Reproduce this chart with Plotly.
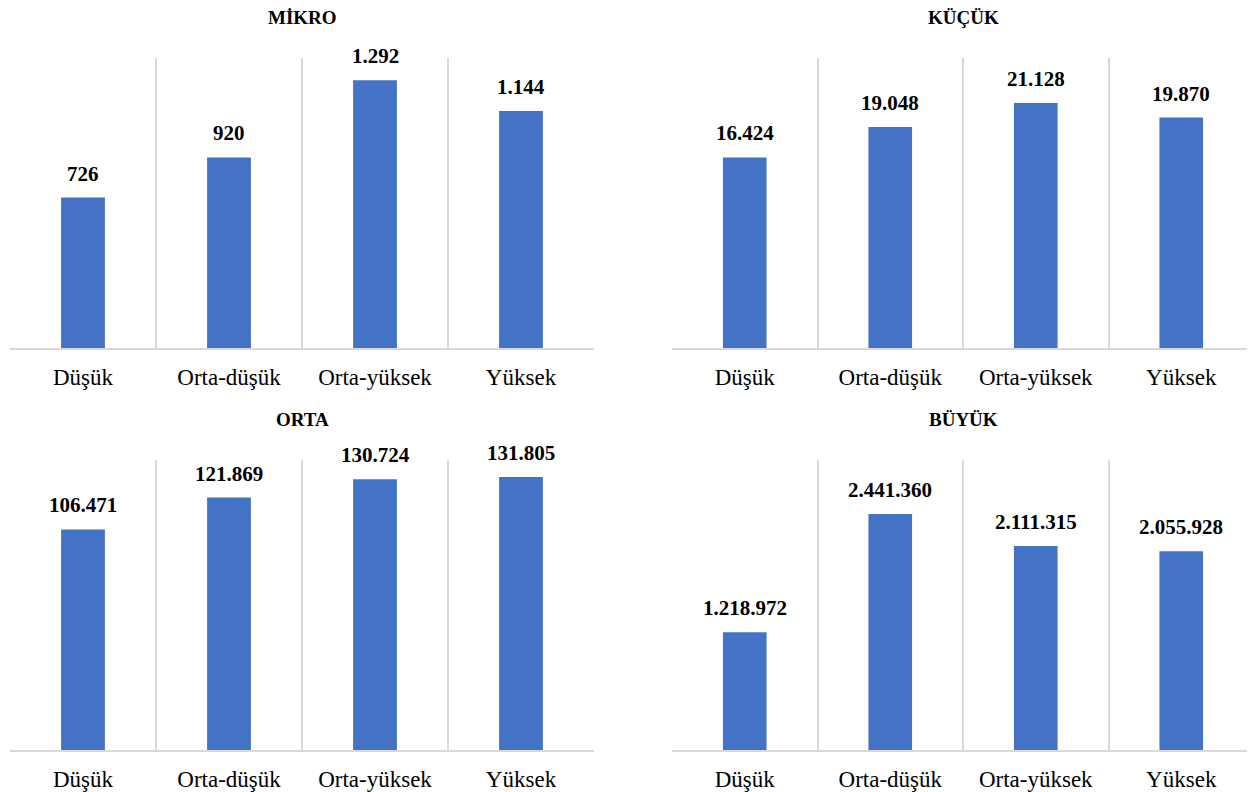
import plotly.graph_objects as go
from plotly.subplots import make_subplots

categories = ["Düşük", "Orta-düşük", "Orta-yüksek", "Yüksek"]

panel_titles = ["MİKRO", "KÜÇÜK", "ORTA", "BÜYÜK"]
mikro = [726, 920, 1292, 1144]
kucuk = [16424, 19048, 21128, 19870]
orta = [106471, 121869, 130724, 131805]
buyuk = [1218972, 2441360, 2111315, 2055928]
axis_max = [1400, 25000, 140000, 3000000]

series = [mikro, kucuk, orta, buyuk]

BAR = "#4472C4"
GRID = "#d9d9d9"
FONT = "Liberation Serif, DejaVu Serif, Times New Roman, serif"

# page has an 8px body margin, so the figure is 8px smaller than the window
W, H = 1247, 784


def fmt(v):
    # Turkish thousands separator
    return f"{v:,}".replace(",", ".")


fig = make_subplots(rows=2, cols=2)

x_px = [(2, 586), (664, 1246)]
y_px = [(50, 340), (452, 742)]
x_domains = [[a / W, b / W] for a, b in x_px]
y_domains = [[1 - b / H, 1 - a / H] for a, b in y_px]

for i, vals in enumerate(series):
    r, c = i // 2 + 1, i % 2 + 1
    fig.add_trace(
        go.Bar(x=categories, y=vals, marker=dict(color=BAR, line=dict(width=0)),
               width=0.3, showlegend=False, hoverinfo="x+y"),
        row=r, col=c,
    )
    for cat, v in zip(categories, vals):
        fig.add_annotation(
            x=cat, y=v, text=f"<b>{fmt(v)}</b>", showarrow=False,
            yanchor="bottom", yshift=10,
            font=dict(family=FONT, size=21, color="#000"),
            row=r, col=c,
        )
    fig.update_xaxes(
        domain=x_domains[c - 1], type="category", tickson="boundaries",
        showgrid=True, gridcolor=GRID, gridwidth=1.5,
        showline=True, linecolor=GRID, linewidth=1.5,
        ticks="", ticklabelstandoff=8,
        tickfont=dict(family=FONT, size=23, color="#000"),
        range=[-0.5, 3.5], row=r, col=c,
    )
    fig.update_yaxes(
        domain=y_domains[r - 1], range=[0, axis_max[i]], visible=False,
        showgrid=False, zeroline=False, row=r, col=c,
    )
    xd = x_domains[c - 1]
    yd = y_domains[r - 1]
    fig.add_annotation(
        x=(xd[0] + xd[1]) / 2, y=yd[1] + 41 / H, xref="paper", yref="paper",
        text=f"<b>{panel_titles[i]}</b>", showarrow=False,
        xanchor="center", yanchor="middle",
        font=dict(family=FONT, size=19, color="#000"),
    )

fig.update_layout(
    width=W, height=H,
    margin=dict(l=0, r=0, t=0, b=0),
    plot_bgcolor="white", paper_bgcolor="white",
)

fig.write_html("out.html")
